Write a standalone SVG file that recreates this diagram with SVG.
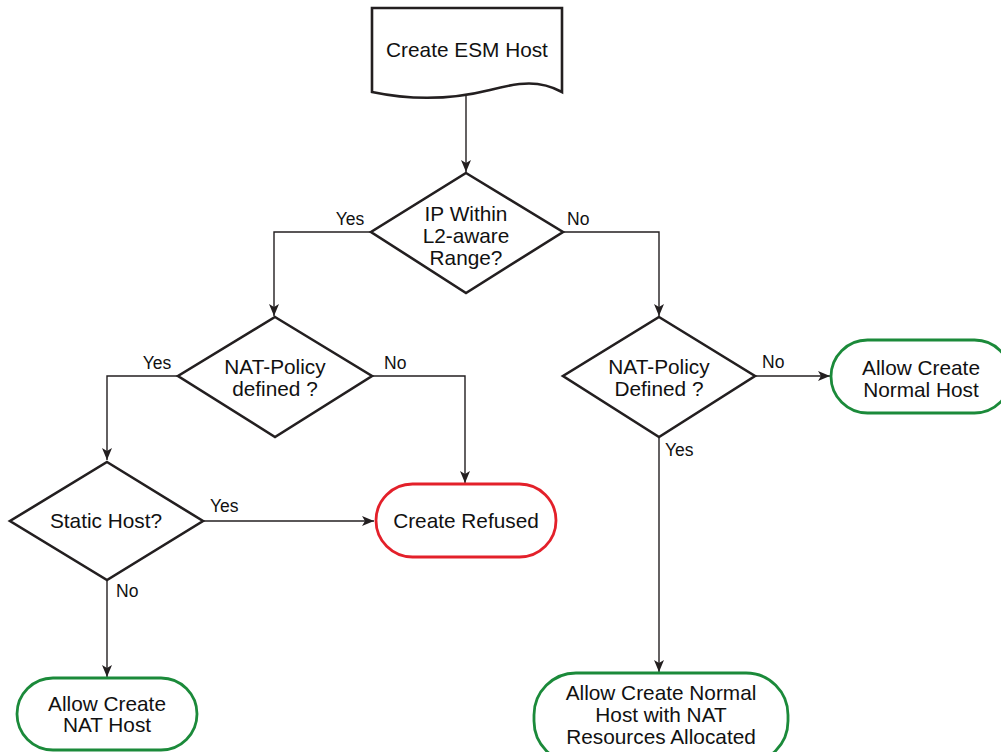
<svg xmlns="http://www.w3.org/2000/svg" width="1001" height="752" viewBox="0 0 1001 752">
<defs>
<style>
.shape{fill:#fff;stroke:#231f20;stroke-width:2.6;stroke-linejoin:miter}
.green{fill:#fff;stroke:#1b8a3a;stroke-width:2.8}
.red{fill:#fff;stroke:#e3202a;stroke-width:2.8}
.conn{fill:none;stroke:#231f20;stroke-width:1.4}
.t{font-family:"Liberation Sans",Arial,sans-serif;font-size:20.8px;fill:#111;text-anchor:middle}
.l{font-family:"Liberation Sans",Arial,sans-serif;font-size:17.5px;fill:#111}
</style>
<marker id="arr" viewBox="0 0 12 10" refX="12" refY="5" markerWidth="12" markerHeight="10" markerUnits="userSpaceOnUse" orient="auto">
<path d="M0,0 L12,5 L0,10 L3,5 z" fill="#231f20"/>
</marker>
</defs>
<rect width="1001" height="752" fill="#fff"/>
<g id="connectors">
<path class="conn" d="M466,96 V172" marker-end="url(#arr)"/>
<path class="conn" d="M371,232 H274 V316" marker-end="url(#arr)"/>
<path class="conn" d="M563,232 H659 V316" marker-end="url(#arr)"/>
<path class="conn" d="M178,376 H107 V460" marker-end="url(#arr)"/>
<path class="conn" d="M372,376 H465 V483" marker-end="url(#arr)"/>
<path class="conn" d="M203,521 H374" marker-end="url(#arr)"/>
<path class="conn" d="M107,580 V677" marker-end="url(#arr)"/>
<path class="conn" d="M755,376 H830" marker-end="url(#arr)"/>
<path class="conn" d="M659,436 V672" marker-end="url(#arr)"/>
<text class="l" x="350" y="225" text-anchor="middle">Yes</text>
<text class="l" x="567" y="225">No</text>
<text class="l" x="157" y="369" text-anchor="middle">Yes</text>
<text class="l" x="384" y="369">No</text>
<text class="l" x="762" y="368">No</text>
<text class="l" x="665" y="456">Yes</text>
<text class="l" x="210" y="512">Yes</text>
<text class="l" x="116" y="597">No</text>
</g>
<g id="start">
<path class="shape" d="M372,8 H562 V92 C540,80 520,82 490,90 C450,100 410,100 372,92 Z"/>
<text class="t" x="467" y="57">Create ESM Host</text>
</g>
<g id="ipRange">
<path class="shape" d="M466,173 L563,232 L466,293 L371,232 Z"/>
<text class="t" x="466" y="221">IP Within</text>
<text class="t" x="466" y="243">L2-aware</text>
<text class="t" x="466" y="265">Range?</text>
</g>
<g id="natPolicyLeft">
<path class="shape" d="M275,317 L372,376 L275,437 L178,376 Z"/>
<text class="t" x="275" y="374">NAT-Policy</text>
<text class="t" x="275" y="396">defined ?</text>
</g>
<g id="natPolicyRight">
<path class="shape" d="M659,317 L755,376 L659,437 L563,376 Z"/>
<text class="t" x="659" y="374">NAT-Policy</text>
<text class="t" x="659" y="396">Defined ?</text>
</g>
<g id="staticHost">
<path class="shape" d="M107,462 L203,521 L107,580 L10,521 Z"/>
<text class="t" x="106" y="528">Static Host?</text>
</g>
<g id="refused">
<rect class="red" x="376" y="484" width="180" height="73" rx="36.5"/>
<text class="t" x="466" y="528">Create Refused</text>
</g>
<g id="normalHost">
<rect class="green" x="831" y="340" width="180" height="73" rx="36.5"/>
<text class="t" x="921" y="375">Allow Create</text>
<text class="t" x="921" y="397">Normal Host</text>
</g>
<g id="natHost">
<rect class="green" x="17" y="678" width="180" height="72" rx="36"/>
<text class="t" x="107" y="711">Allow Create</text>
<text class="t" x="107" y="732">NAT Host</text>
</g>
<g id="normalNat">
<rect class="green" x="534" y="673" width="254" height="90" rx="42"/>
<text class="t" x="661" y="700">Allow Create Normal</text>
<text class="t" x="661" y="722">Host with NAT</text>
<text class="t" x="661" y="744">Resources Allocated</text>
</g>
</svg>
